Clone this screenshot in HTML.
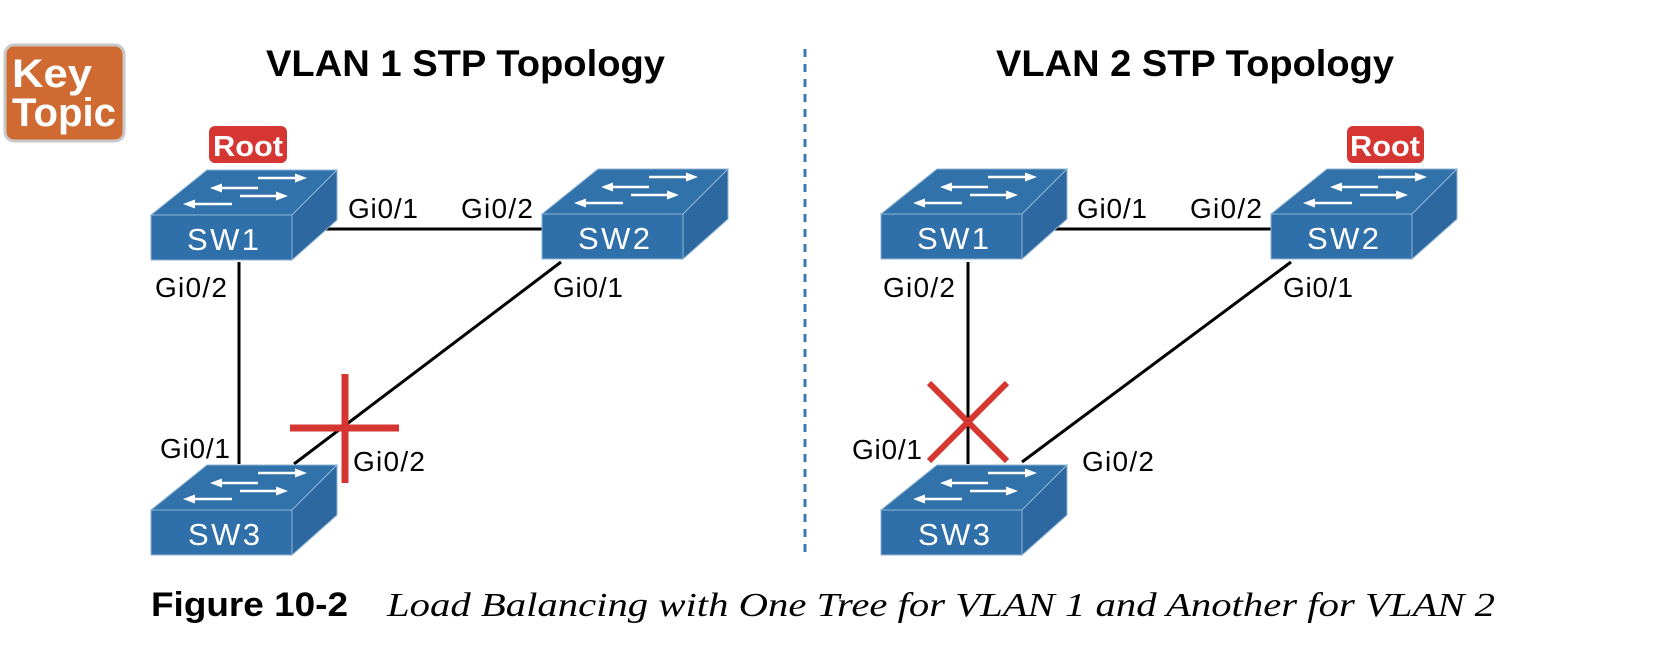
<!DOCTYPE html>
<html><head><meta charset="utf-8"><style>
html,body{margin:0;padding:0;background:#fff;}
svg{display:block;}
</style></head><body>
<svg width="1676" height="646" viewBox="0 0 1676 646" xmlns="http://www.w3.org/2000/svg">
<defs>
<g id="sw">
  <polygon points="0,0 56,-45 186,-45 141,0" fill="#3272ab" stroke="#8fb4d6" stroke-width="1"/>
  <polygon points="141,0 186,-45 186,5 141,45" fill="#2d68a0" stroke="#8fb4d6" stroke-width="1"/>
  <rect x="0" y="0" width="141" height="45" fill="#3070aa" stroke="#8fb4d6" stroke-width="1"/>
  <g stroke="#fff" stroke-width="2.5" fill="#fff">
    <line x1="107" y1="-37" x2="146" y2="-37"/><polygon points="156,-37 144,-41.5 144,-32.5" stroke="none"/>
    <line x1="69" y1="-27" x2="107" y2="-27"/><polygon points="59,-27 71,-31.5 71,-22.5" stroke="none"/>
    <line x1="89" y1="-19" x2="127" y2="-19"/><polygon points="137,-19 125,-23.5 125,-14.5" stroke="none"/>
    <line x1="42" y1="-11" x2="81" y2="-11"/><polygon points="32,-11 44,-15.5 44,-6.5" stroke="none"/>
  </g>
</g>
</defs>

<!-- Key Topic -->
<rect x="5" y="45" width="119" height="96" rx="9" fill="#cf6b32" stroke="#c8c8c8" stroke-width="3"/>
<text x="12" y="87" font-family="Liberation Sans, sans-serif" font-weight="bold" font-size="40" fill="#fff" textLength="80" lengthAdjust="spacingAndGlyphs">Key</text>
<text x="12" y="126" font-family="Liberation Sans, sans-serif" font-weight="bold" font-size="40" fill="#fff" textLength="104" lengthAdjust="spacingAndGlyphs">Topic</text>

<!-- titles -->
<text x="266" y="76" font-family="Liberation Sans, sans-serif" font-weight="bold" font-size="37" textLength="399" lengthAdjust="spacingAndGlyphs">VLAN 1 STP Topology</text>
<text x="996" y="76" font-family="Liberation Sans, sans-serif" font-weight="bold" font-size="37" textLength="398" lengthAdjust="spacingAndGlyphs">VLAN 2 STP Topology</text>

<!-- divider -->
<line x1="805" y1="49" x2="805" y2="556" stroke="#3a78b5" stroke-width="3" stroke-dasharray="8,7"/>

<g font-family="Liberation Sans, sans-serif" font-size="28" fill="#000" lengthAdjust="spacingAndGlyphs">
<!-- LEFT links -->
<line x1="323" y1="229" x2="542" y2="229" stroke="#000" stroke-width="3"/>
<line x1="239" y1="262" x2="239" y2="464" stroke="#000" stroke-width="3"/>
<line x1="561" y1="262" x2="294" y2="464" stroke="#000" stroke-width="3"/>
<line x1="345" y1="374" x2="345" y2="483" stroke="#d63631" stroke-width="7"/>
<line x1="290" y1="428" x2="399" y2="428" stroke="#d63631" stroke-width="7"/>
<text x="348" y="218" textLength="70">Gi0/1</text>
<text x="461" y="218" textLength="72">Gi0/2</text>
<text x="155" y="297" textLength="72">Gi0/2</text>
<text x="553" y="297" textLength="70">Gi0/1</text>
<text x="160" y="458" textLength="70">Gi0/1</text>
<text x="353" y="471" textLength="72">Gi0/2</text>

<!-- RIGHT links -->
<line x1="1052" y1="229" x2="1271" y2="229" stroke="#000" stroke-width="3"/>
<line x1="968" y1="262" x2="968" y2="464" stroke="#000" stroke-width="3"/>
<line x1="1291" y1="262" x2="1022" y2="462" stroke="#000" stroke-width="3"/>
<line x1="929" y1="383" x2="1007" y2="461" stroke="#d63631" stroke-width="6"/>
<line x1="1007" y1="383" x2="929" y2="461" stroke="#d63631" stroke-width="6"/>
<text x="1077" y="218" textLength="70">Gi0/1</text>
<text x="1190" y="218" textLength="72">Gi0/2</text>
<text x="883" y="297" textLength="72">Gi0/2</text>
<text x="1283" y="297" textLength="70">Gi0/1</text>
<text x="852" y="459" textLength="70">Gi0/1</text>
<text x="1082" y="471" textLength="72">Gi0/2</text>
</g>

<!-- switches -->
<use href="#sw" x="151" y="215"/>
<use href="#sw" x="542" y="214"/>
<use href="#sw" x="151" y="510"/>
<use href="#sw" x="881" y="214"/>
<use href="#sw" x="1271" y="214"/>
<use href="#sw" x="881" y="510"/>
<g font-family="Liberation Sans, sans-serif" font-size="31" fill="#fff" text-anchor="middle" lengthAdjust="spacingAndGlyphs">
<text x="223" y="250" textLength="72">SW1</text>
<text x="614" y="249" textLength="72">SW2</text>
<text x="224" y="545" textLength="72">SW3</text>
<text x="953" y="249" textLength="72">SW1</text>
<text x="1343" y="249" textLength="72">SW2</text>
<text x="954" y="545" textLength="72">SW3</text>
</g>

<!-- Root badges -->
<rect x="209" y="126" width="78" height="37" rx="6" fill="#d63631"/>
<text x="248" y="156" text-anchor="middle" font-family="Liberation Sans, sans-serif" font-weight="bold" font-size="29" fill="#fff" textLength="70" lengthAdjust="spacingAndGlyphs">Root</text>
<rect x="1347" y="126" width="77" height="37" rx="6" fill="#d63631"/>
<text x="1385" y="156" text-anchor="middle" font-family="Liberation Sans, sans-serif" font-weight="bold" font-size="29" fill="#fff" textLength="70" lengthAdjust="spacingAndGlyphs">Root</text>

<!-- caption -->
<text x="151" y="616" font-family="Liberation Sans, sans-serif" font-weight="bold" font-size="34" textLength="197" lengthAdjust="spacingAndGlyphs">Figure 10-2</text>
<text x="387" y="616" font-family="Liberation Serif, serif" font-style="italic" font-size="34" textLength="1108" lengthAdjust="spacingAndGlyphs">Load Balancing with One Tree for VLAN 1 and Another for VLAN 2</text>
</svg>
</body></html>
